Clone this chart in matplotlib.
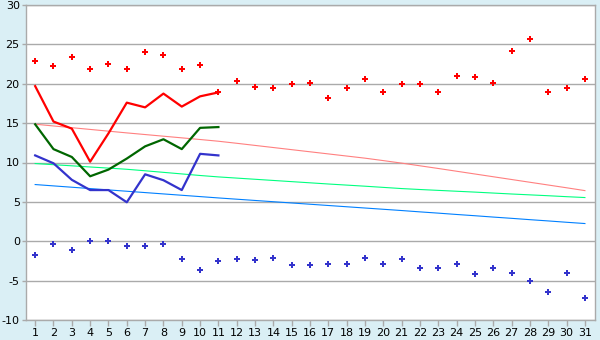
import matplotlib
matplotlib.use("Agg")
import matplotlib.pyplot as plt

days = list(range(1, 32))

# daily max / min markers
tmax = [22.9, 22.3, 23.45, 21.9, 22.5, 21.9, 24.0, 23.7, 21.9, 22.4,
        18.9, 20.3, 19.6, 19.4, 20.0, 20.15, 18.2, 19.4, 20.65, 18.9,
        20.0, 20.0, 19.0, 21.0, 20.8, 20.15, 24.2, 25.7, 18.9, 19.4, 20.65]
tmin = [-1.7, -0.4, -1.05, 0.0, 0.0, -0.55, -0.55, -0.4, -2.2, -3.6,
        -2.45, -2.2, -2.35, -2.07, -2.96, -2.96, -2.83, -2.83, -2.07, -2.83,
        -2.2, -3.34, -3.34, -2.83, -4.1, -3.34, -3.98, -5.0, -6.5, -3.98, -7.15]

# lines for the first 11 days
line_days = days[:11]
line_max = [19.7, 15.2, 14.3, 10.1, 13.7, 17.6, 17.0, 18.75, 17.1, 18.4, 18.9]
line_mean = [14.85, 11.7, 10.7, 8.25, 9.1, 10.5, 12.05, 12.95, 11.7, 14.4, 14.5]
line_min = [10.9, 9.9, 7.8, 6.5, 6.5, 4.95, 8.5, 7.75, 6.5, 11.1, 10.9]

# normals
norm_max = [14.86, 14.64, 14.42, 14.2, 13.98, 13.76, 13.55, 13.34, 13.13, 12.92,
            12.7, 12.44, 12.17, 11.9, 11.63, 11.36, 11.09, 10.82, 10.55, 10.24,
            9.92, 9.58, 9.24, 8.89, 8.54, 8.19, 7.84, 7.49, 7.14, 6.79, 6.43]
norm_mean = [9.87, 9.72, 9.58, 9.43, 9.29, 9.14, 8.95, 8.75, 8.55, 8.35,
             8.17, 8.02, 7.87, 7.72, 7.57, 7.42, 7.27, 7.13, 6.99, 6.84,
             6.69, 6.57, 6.46, 6.35, 6.24, 6.12, 6.0, 5.89, 5.78, 5.66, 5.55]
norm_min = [7.2, 7.03, 6.86, 6.69, 6.52, 6.35, 6.18, 6.01, 5.84, 5.67,
            5.5, 5.34, 5.18, 5.02, 4.86, 4.7, 4.54, 4.38, 4.22, 4.06,
            3.9, 3.73, 3.57, 3.4, 3.24, 3.07, 2.91, 2.74, 2.58, 2.41, 2.25]
yticks = [-10, -5, 0, 5, 10, 15, 20, 25, 30]

bg = "#daeff5"
grid = "#aaaaaa"

fig = plt.figure(figsize=(6, 3.4), dpi=100, facecolor=bg)
ax = fig.add_axes([26 / 600, 1 - 320 / 340, 569 / 600, 315 / 340])
ax.set_facecolor("white")

ax.plot(days, norm_max, color="#ff8080", lw=0.8)
ax.plot(days, norm_mean, color="#00ff80", lw=0.8)
ax.plot(days, norm_min, color="#0080ff", lw=0.8)

ax.plot(line_days, line_max, color="#ff0000", lw=1.6)
ax.plot(line_days, line_mean, color="#006600", lw=1.6)
ax.plot(line_days, line_min, color="#3333cc", lw=1.6)

ax.plot(days, tmax, ls="none", marker="P", ms=5, color="#ff0000", mew=0)
ax.plot(days, tmin, ls="none", marker="P", ms=5, color="#3333cc", mew=0)

ax.set_xlim(0.5, 31.55)
ax.set_ylim(-10, 30)
ax.set_xticks(days)
ax.set_yticks(yticks)
ax.set_yticklabels([str(v) for v in yticks])
ax.yaxis.grid(True, color=grid, lw=1)
ax.set_axisbelow(True)
for s in ax.spines.values():
    s.set_color(grid)
    s.set_linewidth(1)
ax.tick_params(axis="both", colors=grid, labelcolor="black", labelsize=8,
               width=1)
ax.tick_params(axis="x", length=4, pad=2)
ax.tick_params(axis="y", length=3, pad=1.5)

fig.savefig("out.png", dpi=100, facecolor=bg)
